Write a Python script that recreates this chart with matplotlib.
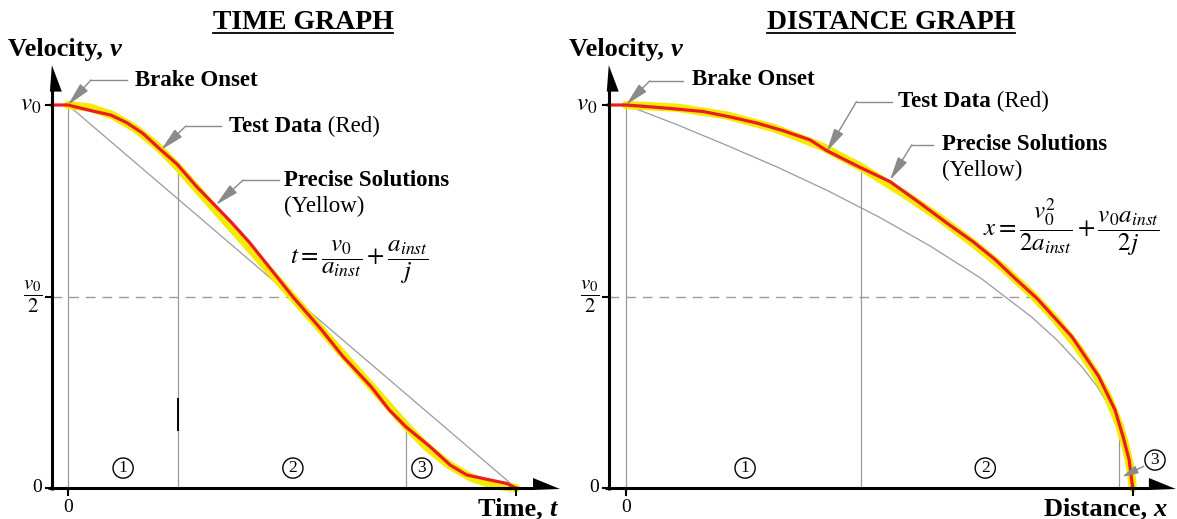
import matplotlib
matplotlib.use("Agg")
import matplotlib.pyplot as plt
from matplotlib.patches import Polygon

plt.rcParams.update({
    "font.family": "Liberation Serif",
    "mathtext.fontset": "stix",
})

GRAY = "#9b9b9b"
LEADER = "#8a8a8a"
RED = "#ec1c24"
YELLOW = "#f6eb00"

# ---- Time graph: t / t_stop  vs  v / v0 ----
time_test_t = [-0.036, 0.000, 0.056, 0.095, 0.131, 0.167, 0.207, 0.243, 0.287, 0.327, 0.366,
               0.406, 0.502, 0.566, 0.614, 0.677, 0.717, 0.754, 0.808, 0.853, 0.890, 0.942,
               0.979, 1.000]
time_test_v = [1.000, 1.000, 0.984, 0.974, 0.954, 0.926, 0.883, 0.846, 0.787, 0.739, 0.692,
               0.640, 0.499, 0.413, 0.343, 0.264, 0.204, 0.160, 0.108, 0.060, 0.034, 0.021,
               0.012, 0.000]
time_precise_t = [0.0, 0.05, 0.10, 0.15, 0.20, 0.245, 0.30, 0.40, 0.50, 0.60, 0.70, 0.755,
                  0.80, 0.85, 0.90, 0.95, 1.0]
time_precise_v = [1.0, 0.993, 0.973, 0.939, 0.892, 0.838, 0.765, 0.633, 0.500, 0.367, 0.235,
                  0.162, 0.108, 0.061, 0.027, 0.007, 0.0]
time_const_t = [0.0, 1.0]
time_const_v = [1.0, 0.0]
time_phase_t = [0.0, 0.245, 0.755]
time_phase_v = [1.0, 0.838, 0.162]

# ---- Distance graph: x / x_stop  vs  v / v0 ----
dist_test_x = [-0.035, 0.000, 0.041, 0.087, 0.152, 0.205, 0.258, 0.310, 0.363, 0.396, 0.462,
               0.521, 0.580, 0.633, 0.685, 0.728, 0.764, 0.811, 0.880, 0.933, 0.965, 0.981,
               0.993, 1.000]
dist_test_v = [1.000, 1.000, 0.996, 0.991, 0.983, 0.969, 0.953, 0.933, 0.909, 0.881, 0.837,
               0.800, 0.744, 0.692, 0.643, 0.597, 0.552, 0.495, 0.395, 0.291, 0.204, 0.134,
               0.073, 0.000]
dist_precise_x = [0.0, 0.100, 0.198, 0.294, 0.386, 0.4635, 0.544, 0.618, 0.685, 0.746, 0.800,
                  0.847, 0.888, 0.922, 0.950, 0.974, 0.986, 0.994, 0.998, 1.0]
dist_precise_v = [1.0, 0.993, 0.973, 0.939, 0.892, 0.838, 0.772, 0.706, 0.639, 0.573, 0.507,
                  0.441, 0.374, 0.308, 0.242, 0.163, 0.108, 0.061, 0.027, 0.0]
dist_const_x = [0.0, 0.1, 0.2, 0.3, 0.4, 0.5, 0.6, 0.7, 0.8, 0.85, 0.9, 0.93, 0.96, 0.975,
                0.99, 0.997, 1.0]
dist_const_v = [1.0, 0.949, 0.894, 0.837, 0.775, 0.707, 0.632, 0.548, 0.447, 0.387, 0.316,
                0.265, 0.200, 0.158, 0.100, 0.055, 0.0]
dist_phase_x = [0.0, 0.464, 0.973]
dist_phase_v = [1.0, 0.837, 0.163]

PX_V = 383.0          # pixels per v0 on both panels
YLIM = (-31 / PX_V, 488 / PX_V)


def draw_frame(ax, axis_x, sx, arrow_x):
    """Thick axes with arrow heads, ticks and tick labels. sx = px per x unit."""
    k = 1.0 / sx
    ax.plot([axis_x - 4 * k, arrow_x], [0, 0], color="black", lw=2.2,
            solid_capstyle="butt", zorder=5)
    ax.plot([axis_x, axis_x], [-2 / PX_V, 1.04], color="black", lw=2.2,
            solid_capstyle="butt", zorder=5)
    ax.add_patch(Polygon([[arrow_x, 10 / PX_V], [arrow_x, -2 / PX_V], [arrow_x + 27 * k, -1 / PX_V]],
                         closed=True, color="black", lw=0, zorder=5))
    ax.add_patch(Polygon([[axis_x, 1.104], [axis_x - 2 * k, 1.035], [axis_x + 10 * k, 1.035]],
                         closed=True, color="black", lw=0, zorder=5))
    for v in (0.0, 0.5, 1.0):
        ax.plot([axis_x - 6 * k, axis_x], [v, v], color="black", lw=1.5, zorder=5)
    for x in (0.0, 1.0):
        ax.plot([x, x], [0, -7 / PX_V], color="black", lw=1.5, zorder=5)

    ax.text(axis_x - 11 * k, 1.0, r"$v_0$", ha="right", va="center", fontsize=18)
    ax.text(axis_x - 9 * k, 0.5, r"$\dfrac{v_0}{2}$", ha="right", va="center", fontsize=15)
    ax.text(axis_x - 10 * k, 0.0, "0", ha="right", va="center", fontsize=14)
    ax.text(0.0, -0.05, "0", ha="center", va="center", fontsize=14)


def leader(ax, corner, end_x, tip):
    ax.plot([corner[0], end_x], [corner[1], corner[1]], color=LEADER, lw=1.0, zorder=6)
    ax.annotate("", xy=tip, xytext=corner,
                arrowprops=dict(arrowstyle="-|>,head_length=0.9,head_width=0.2",
                                color=LEADER, lw=1.0, shrinkA=0, shrinkB=0,
                                mutation_scale=16), zorder=6)


def label(ax, x, y, bold, plain=None, size=16.5):
    t = ax.text(x, y, bold, fontsize=size, fontweight="bold", ha="left", va="center")
    if plain:
        ax.annotate(plain, xy=(1, 0), xycoords=t, fontsize=size, ha="left", va="bottom")
    return t


def circled(ax, x, y, n):
    ax.text(x, y, str(n), ha="center", va="center", fontsize=12.5,
            bbox=dict(boxstyle="circle,pad=0.12", fc="white", ec="black", lw=1.0), zorder=7)


def velocity_label(ax, x, y):
    t = ax.text(x, y, "Velocity, ", fontsize=19, fontweight="bold", ha="left", va="center")
    ax.annotate("v", xy=(1, 0), xycoords=t, fontsize=19, fontweight="bold",
                fontstyle="italic", ha="left", va="bottom")


def end_label(ax, x, y, word, var):
    t = ax.text(x, y, var, fontsize=19, fontweight="bold", fontstyle="italic",
                ha="right", va="bottom")
    ax.annotate(word, xy=(0, 0), xycoords=t, fontsize=19, fontweight="bold",
                ha="right", va="bottom")


def curves(ax, test_x, test_v, precise_x, precise_v, ref_x, ref_v):
    ax.plot(ref_x, ref_v, color=GRAY, lw=0.9, zorder=2)
    ax.plot(precise_x, precise_v, color=YELLOW, lw=6.0, solid_capstyle="round", zorder=3)
    ax.plot(test_x, test_v, color=RED, lw=2.3, zorder=4)


fig = plt.figure(figsize=(11.77, 5.19), dpi=100)

# ━━━━━━━━━━━━━━━━━━━━━━━━━━ TIME GRAPH ━━━━━━━━━━━━━━━━━━━━━━━━━━
SX_T = 448.0
axt = fig.add_axes([0, 0, 580 / 1177, 1])
axt.set_xlim(-68 / SX_T, 512 / SX_T)
axt.set_ylim(*YLIM)
axt.axis("off")

for t, v in zip(time_phase_t, time_phase_v):
    axt.plot([t, t], [0, v], color=GRAY, lw=0.9, zorder=1)
axt.plot([time_phase_t[1]] * 2, [0.151, 0.232], color="black", lw=1.4, zorder=1)
axt.plot([-0.036, 0.5], [0.5, 0.5], color=GRAY, lw=1.0, ls=(0, (7, 5)), zorder=1)
curves(axt, time_test_t, time_test_v, time_precise_t, time_precise_v,
       time_const_t, time_const_v)
draw_frame(axt, -0.036, SX_T, 1.038)

label(axt, 0.150, 1.065, "Brake Onset")
leader(axt, (0.051, 1.065), 0.132, (0.0, 1.0))
label(axt, 0.359, 0.945, "Test Data", " (Red)")
leader(axt, (0.263, 0.945), 0.342, (0.208, 0.883))
label(axt, 0.482, 0.804, "Precise Solutions")
axt.text(0.482, 0.736, "(Yellow)", fontsize=16.5, ha="left", va="center")
leader(axt, (0.391, 0.804), 0.471, (0.330, 0.739))
axt.text(0.496, 0.59, r"$t=\dfrac{v_0}{a_{inst}}+\dfrac{a_{inst}}{j}$",
         fontsize=18, ha="left", va="center")

for n, t in enumerate([0.123, 0.502, 0.790], start=1):
    circled(axt, t, 0.052, n)

title_t = axt.text(0.5246, 1.2167, "TIME GRAPH", fontsize=20, fontweight="bold",
                   ha="center", va="center")
velocity_label(axt, -0.134, 1.146)
end_label(axt, 1.0915, -0.085, "Time, ", "t")

# ━━━━━━━━━━━━━━━━━━━━━━━━ DISTANCE GRAPH ━━━━━━━━━━━━━━━━━━━━━━━━
SX_D = 506.7
axd = fig.add_axes([580 / 1177, 0, 597 / 1177, 1])
axd.set_xlim(-46 / SX_D, 551 / SX_D)
axd.set_ylim(*YLIM)
axd.axis("off")

for x, v in zip(dist_phase_x, dist_phase_v):
    axd.plot([x, x], [0, v], color=GRAY, lw=0.9, zorder=1)
axd.plot([-0.034, 0.805], [0.5, 0.5], color=GRAY, lw=1.0, ls=(0, (7, 5)), zorder=1)
curves(axd, dist_test_x, dist_test_v, dist_precise_x, dist_precise_v,
       dist_const_x, dist_const_v)
draw_frame(axd, -0.034, SX_D, 1.032)

label(axd, 0.130, 1.066, "Brake Onset")
leader(axd, (0.047, 1.063), 0.1125, (0.0, 1.0))
label(axd, 0.537, 1.010, "Test Data", " (Red)")
leader(axd, (0.455, 1.009), 0.524, (0.396, 0.878))
label(axd, 0.623, 0.896, "Precise Solutions")
axd.text(0.623, 0.828, "(Yellow)", fontsize=16.5, ha="left", va="center")
leader(axd, (0.564, 0.896), 0.606, (0.521, 0.804))
axd.text(0.7046, 0.681, r"$x=\dfrac{v_0^2}{2a_{inst}}+\dfrac{v_0a_{inst}}{2j}$",
         fontsize=18, ha="left", va="center")

circled(axd, 0.235, 0.052, 1)
circled(axd, 0.709, 0.052, 2)
circled(axd, 1.044, 0.073, 3)
axd.annotate("", xy=(0.979, 0.029), xytext=(1.022, 0.057),
             arrowprops=dict(arrowstyle="-|>,head_length=0.8,head_width=0.2",
                             color=LEADER, lw=1.0, shrinkA=0, shrinkB=0,
                             mutation_scale=12), zorder=6)

title_d = axd.text(0.523, 1.2167, "DISTANCE GRAPH", fontsize=20, fontweight="bold",
                   ha="center", va="center")
velocity_label(axd, -0.1125, 1.146)
end_label(axd, 1.0677, -0.085, "Distance, ", "x")

# underline the two headings
fig.canvas.draw()
renderer = fig.canvas.get_renderer()
for ax, title in ((axt, title_t), (axd, title_d)):
    bb = title.get_window_extent(renderer)
    x0 = ax.transData.inverted().transform((bb.x0, 0))[0]
    x1 = ax.transData.inverted().transform((bb.x1, 0))[0]
    ax.plot([x0, x1], [1.188, 1.188], color="black", lw=1.3)

fig.savefig("out.png", dpi=100, facecolor="white")
